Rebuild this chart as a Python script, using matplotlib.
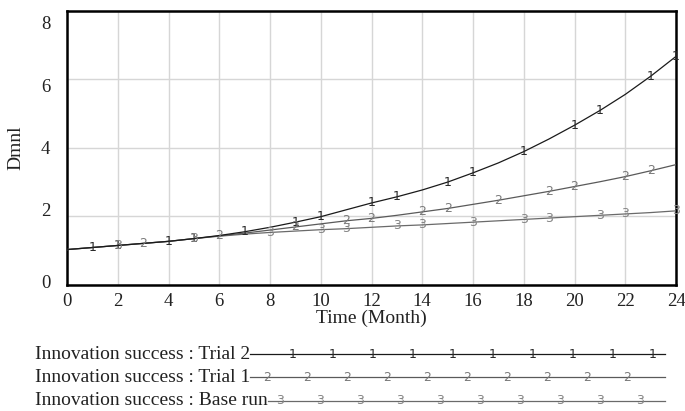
import numpy as np
import matplotlib
matplotlib.use("Agg")
import matplotlib.pyplot as plt
from matplotlib.transforms import ScaledTranslation

# ---- data ----
months = list(range(0, 25))
trial2 = [1.02, 1.08, 1.14, 1.20, 1.26, 1.34, 1.43, 1.54, 1.67, 1.82, 1.98, 2.18, 2.38,
          2.56, 2.76, 2.99, 3.26, 3.55, 3.88, 4.25, 4.65, 5.08, 5.55, 6.08, 6.66]
trial1 = [1.02, 1.08, 1.14, 1.20, 1.26, 1.34, 1.42, 1.50, 1.59, 1.68, 1.77, 1.86, 1.93,
          2.02, 2.12, 2.22, 2.34, 2.46, 2.59, 2.72, 2.86, 3.00, 3.15, 3.32, 3.50]
base_run = [1.02, 1.08, 1.14, 1.20, 1.26, 1.34, 1.41, 1.47, 1.52, 1.56, 1.60, 1.63, 1.67,
            1.71, 1.74, 1.78, 1.82, 1.86, 1.90, 1.94, 1.98, 2.02, 2.06, 2.10, 2.15]
marks_trial2 = [1, 2, 4, 5, 7, 9, 10, 12, 13, 15, 16, 18, 20, 21, 23, 24]
marks_trial1 = [3, 6, 9, 11, 12, 14, 15, 17, 19, 20, 22, 23]
marks_base = [2, 5, 8, 10, 11, 13, 14, 16, 18, 19, 21, 22, 24]
series_labels = ["Innovation success : Trial 2",
                 "Innovation success : Trial 1",
                 "Innovation success : Base run"]
x_ticks = list(range(0, 25, 2))
y_ticks = [0, 2, 4, 6, 8]

SERIF = ["Liberation Serif", "DejaVu Serif"]
W, H = 685, 411
fig = plt.figure(figsize=(W / 100, H / 100), dpi=100)
ax = fig.add_axes([67 / W, 1 - 284.5 / H, (676 - 67) / W, (284.5 - 10.5) / H])

line_cols = ["#1a1a1a", "#5a5a5a", "#6a6a6a"]
mark_cols = ["#2a2a2a", "#7a7a7a", "#858585"]
series = [trial2, trial1, base_run]
marks = [marks_trial2, marks_trial1, marks_base]

for i, (vals, mk) in enumerate(zip(series, marks)):
    ax.plot(months, vals, color=line_cols[i], lw=0.9, zorder=3 - i * 0.1)
    for t in mk:
        ax.text(t, vals[t], str(i + 1), ha="center", va="center", fontsize=9,
                color=mark_cols[i], family="DejaVu Sans", zorder=4, clip_on=False)

ax.set_xlim(0, 24)
ax.set_ylim(0, 8)
ax.set_xticks(x_ticks)
ax.set_yticks(y_ticks)
ax.grid(True, color="#d6d6d6", lw=1.0)
ax.set_axisbelow(True)
for sp in ax.spines.values():
    sp.set_linewidth(1.8)
    sp.set_color("black")
ax.tick_params(length=0, labelsize=13.5, pad=6)
ax.tick_params(axis="y", pad=12)
for lab in ax.get_xticklabels() + ax.get_yticklabels():
    lab.set_family(SERIF)
    lab.set_color("#222222")

# vensim-like label offsets for y tick labels (pixels, +up)
y_offsets = [2.5, 7, 0, -6, -12]
for lab, dy in zip(ax.get_yticklabels(), y_offsets):
    lab.set_transform(lab.get_transform() + ScaledTranslation(0, dy / 100, fig.dpi_scale_trans))

ax.set_xlabel("Time (Month)", family=SERIF, fontsize=14, color="#222222", labelpad=0)
ax.set_ylabel("Dmnl", family=SERIF, fontsize=14, color="#222222", labelpad=12)

# ---- legend (drawn in pixel coordinates) ----
lax = fig.add_axes([0, 0, 1, 1])
lax.set_xlim(0, W)
lax.set_ylim(H, 0)
lax.axis("off")
row_y = [354, 377, 400.5]
marker_start = [293, 267, 280]
for i in range(3):
    t = lax.text(35, row_y[i], series_labels[i], family=SERIF, fontsize=14,
                 ha="left", va="center", color="#222222")
    fig.canvas.draw()
    bb = t.get_window_extent()
    x_end = bb.x1
    lax.plot([x_end, 665], [row_y[i], row_y[i]], color=line_cols[i], lw=0.9)
    for xm in np.arange(marker_start[i], 665, 40):
        lax.text(xm, row_y[i], str(i + 1), ha="center", va="center", fontsize=9,
                 color=mark_cols[i], family="DejaVu Sans")

fig.savefig("out.png", dpi=100)
